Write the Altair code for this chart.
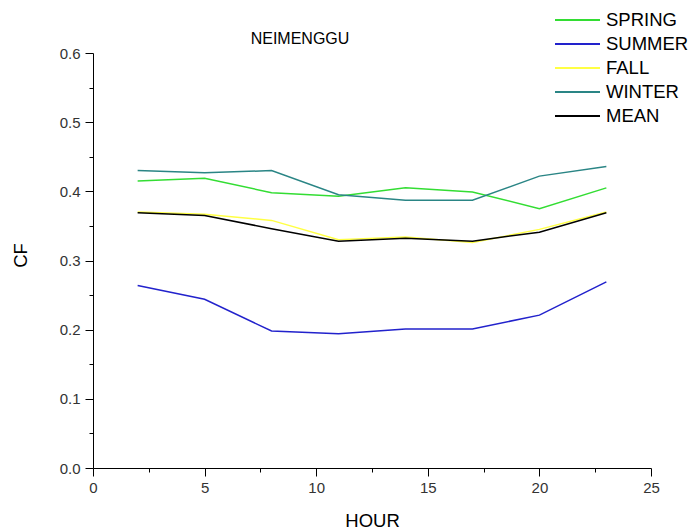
import altair as alt
import pandas as pd

hours = [2, 5, 8, 11, 14, 17, 20, 23]
spring = [0.415, 0.419, 0.398, 0.393, 0.405, 0.399, 0.375, 0.405]
summer = [0.264, 0.244, 0.198, 0.194, 0.201, 0.201, 0.221, 0.269]
fall = [0.370, 0.367, 0.358, 0.330, 0.334, 0.326, 0.345, 0.370]
winter = [0.430, 0.427, 0.430, 0.395, 0.387, 0.387, 0.422, 0.436]
mean = [0.369, 0.365, 0.346, 0.328, 0.332, 0.328, 0.341, 0.369]

series_names = ["SPRING", "SUMMER", "FALL", "WINTER", "MEAN"]
series_colors = ["#33dd33", "#2222cc", "#ffff44", "#2a8585", "#000000"]
x_ticks = [0, 2.5, 5, 7.5, 10, 12.5, 15, 17.5, 20, 22.5, 25]
y_ticks = [0.0, 0.05, 0.1, 0.15, 0.2, 0.25, 0.3, 0.35, 0.4, 0.45, 0.5, 0.55, 0.6]

rows = []
for name, vals in zip(series_names, [spring, summer, fall, winter, mean]):
    for h, v in zip(hours, vals):
        rows.append({"HOUR": h, "CF": v, "series": name})
df = pd.DataFrame(rows)

FONT = "Liberation Sans"

chart = alt.Chart(df).mark_line(strokeWidth=1.5).encode(
    x=alt.X("HOUR:Q",
            scale=alt.Scale(domain=[0, 25], nice=False, zero=False),
            axis=alt.Axis(title="HOUR", values=x_ticks, grid=False,
                          labelExpr="datum.value % 5 === 0 ? datum.label : ''",
                          tickSize={"condition": {"test": "datum.value % 5 === 0", "value": 8}, "value": 4},
                          labelPadding=4, labelFontSize=15, labelColor="#333333",
                          titleFontSize=18.5, titleFontWeight="normal", titleY=52,
                          titleBaseline="middle", labelFlush=False)),
    y=alt.Y("CF:Q",
            scale=alt.Scale(domain=[0, 0.6], nice=False),
            axis=alt.Axis(title="CF", values=y_ticks, grid=False,
                          labelExpr="round(datum.value*100) % 10 === 0 ? format(datum.value, '.1f') : ''",
                          tickSize={"condition": {"test": "round(datum.value*100) % 10 === 0", "value": 8}, "value": 4},
                          labelPadding=5, labelFontSize=15, labelColor="#333333",
                          titleFontSize=18.5, titleFontWeight="normal",
                          titleX=-73, titleY=202, titleBaseline="middle", labelFlush=False)),
    color=alt.Color("series:N",
                    scale=alt.Scale(domain=series_names, range=series_colors),
                    sort=series_names,
                    legend=alt.Legend(title=None, orient="none", legendX=461, legendY=-45,
                                      symbolType="stroke", symbolSize=2025,
                                      symbolStrokeWidth=2, labelFontSize=18.5,
                                      labelColor="#000000", rowPadding=0, clipHeight=24,
                                      labelOffset=5)),
).properties(
    width=558,
    height=415,
    title=alt.TitleParams("NEIMENGGU", fontSize=16, fontWeight="normal", font=FONT,
                          anchor="middle", dx=-72, dy=39, offset=0, color="#000000"),
    autosize=alt.AutoSizeParams(type="none"),
    padding={"left": 93, "top": 53, "right": 42, "bottom": 61},
).configure(
    font=FONT,
).configure_axis(
    domainColor="#000000", tickColor="#000000", titleColor="#000000",
    labelFont=FONT, titleFont=FONT, domainWidth=1, tickWidth=1,
).configure_view(stroke=None)

chart.save("out.html", embed_options={"renderer": "svg", "actions": False})
